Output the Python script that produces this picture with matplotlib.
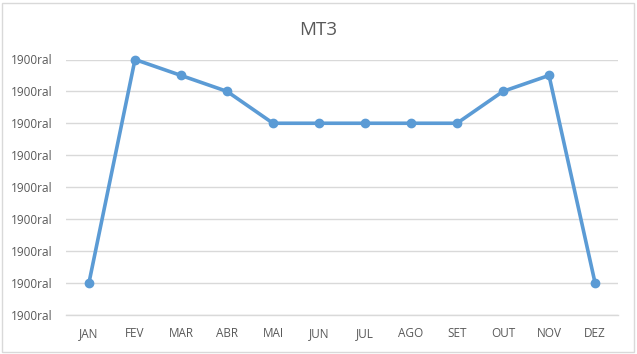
import matplotlib
matplotlib.use("Agg")
import matplotlib.pyplot as plt
from matplotlib.patches import Rectangle

months = ["JAN", "FEV", "MAR", "ABR", "MAI", "JUN", "JUL", "AGO", "SET", "OUT", "NOV", "DEZ"]
values = [1, 8, 7.5, 7, 6, 6, 6, 6, 6, 7, 7.5, 1]
y_ticks = [0, 1, 2, 3, 4, 5, 6, 7, 8]
y_labels = ["1900ral"] * len(y_ticks)

plt.rcParams['font.family'] = ['Open Sans', 'DejaVu Sans']

fig = plt.figure(figsize=(6.37, 3.54), dpi=100)
ax = fig.add_axes([66/637, 1 - 314.5/354, (618-66)/637, (314.5-59.5)/354])

x = list(range(len(months)))
ax.plot(x, values, color="#5B9BD5", linewidth=2.6, marker="o", markersize=6, zorder=3, clip_on=False)

ax.set_xlim(-0.5, len(months) - 0.5)
ax.set_ylim(0, 8)
ax.set_yticks(y_ticks)
ax.set_yticklabels(y_labels)
ax.set_xticks(x)
ax.set_xticklabels(months)
ax.tick_params(axis="both", length=0, colors="#595959", labelsize=8.5)
ax.tick_params(axis="y", pad=10)
ax.tick_params(axis="x", pad=9)
ax.grid(axis="y", color="#D9D9D9", linewidth=1)
ax.set_axisbelow(True)
for s in ["top", "right", "left"]:
    ax.spines[s].set_visible(False)
ax.spines["bottom"].set_color("#D9D9D9")
ax.spines["bottom"].set_linewidth(1)

fig.text(318/637, 1 - 30/354, "MT3", ha="center", va="center", fontsize=13.5, color="#595959")

fig.patches.append(Rectangle((2/637, 2/354), 632/637, 349/354, transform=fig.transFigure,
                             fill=False, edgecolor="#D9D9D9", linewidth=1))

fig.savefig("out.png", dpi=100)
